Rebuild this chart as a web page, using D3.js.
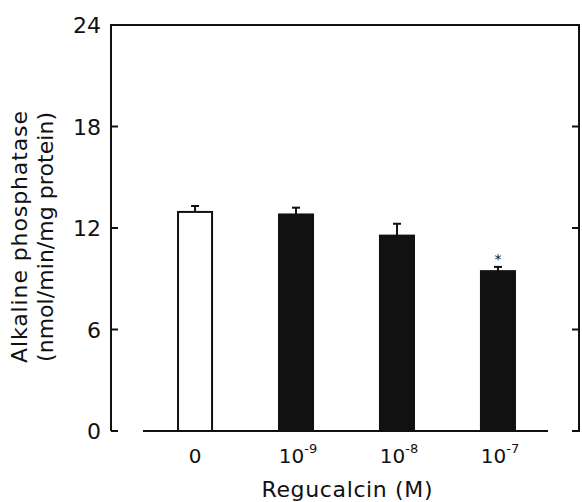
<!DOCTYPE html>
<meta charset="utf-8">
<head>
  <style>
    body { margin: 0; background: #fff; }
    text { font-family: "DejaVu Sans", sans-serif; fill: #111; }
  </style>
  <script src="https://cdn.jsdelivr.net/npm/d3@7"></script>
</head>
<body>
<script>
  // values
  const doses = ["0", "-9", "-8", "-7"];
  const means = [12.95, 12.8, 11.55, 9.45];
  const errs = [0.35, 0.4, 0.7, 0.25];
  const signif = [false, false, false, true];
  const yTicks = [0, 6, 12, 18, 24];

  const W = 582, H = 502;
  const mLeft = 111, mRight = 579, mTop = 25, mBottom = 431;

  const svg = d3.create("svg:svg")
    .attr("width", W)
    .attr("height", H);
  d3.select("body").append(() => svg.node());

  const y = d3.scaleLinear().domain([0, 24]).range([mBottom, mTop]);
  const x = d3.scaleBand()
    .domain(doses)
    .range([144, 549])
    .paddingInner(0.663)
    .paddingOuter(0.337);

  const ink = "#111";

  // frame: left axis, top line, right axis
  svg.append("path")
    .attr("d", `M${mLeft},${mBottom} L${mLeft},${mTop} L${mRight},${mTop} L${mRight},${mBottom + 1}`)
    .attr("fill", "none")
    .attr("stroke", ink)
    .attr("stroke-width", 2);

  // ticks (inward) and labels
  const gy = svg.append("g");
  gy.selectAll("line.tl").data(yTicks).join("line")
    .attr("class", "tl")
    .attr("x1", mLeft).attr("x2", mLeft + 7)
    .attr("y1", d => y(d)).attr("y2", d => y(d))
    .attr("stroke", ink).attr("stroke-width", 2);
  gy.selectAll("line.tr").data(yTicks).join("line")
    .attr("class", "tr")
    .attr("x1", mRight).attr("x2", mRight - 7)
    .attr("y1", d => y(d)).attr("y2", d => y(d))
    .attr("stroke", ink).attr("stroke-width", 2);
  gy.selectAll("text").data(yTicks).join("text")
    .attr("x", mLeft - 10)
    .attr("y", d => y(d) + 8)
    .attr("text-anchor", "end")
    .attr("font-size", 22)
    .text(d => d);

  // baseline
  svg.append("line")
    .attr("x1", x.range()[0] - 1).attr("x2", x.range()[1] - 1)
    .attr("y1", y(0)).attr("y2", y(0))
    .attr("stroke", ink).attr("stroke-width", 2);

  // bars
  const bars = svg.append("g");
  bars.selectAll("rect").data(doses).join("rect")
    .attr("x", d => x(d))
    .attr("y", (d, i) => y(means[i]))
    .attr("width", x.bandwidth())
    .attr("height", (d, i) => y(0) - y(means[i]))
    .attr("fill", (d, i) => i == 0 ? "#fff" : ink)
    .attr("stroke", ink)
    .attr("stroke-width", 2);

  // error bars (upper only)
  const eb = svg.append("g").attr("stroke", ink).attr("stroke-width", 2);
  eb.selectAll("line.v").data(doses).join("line")
    .attr("class", "v")
    .attr("x1", d => x(d) + x.bandwidth() / 2)
    .attr("x2", d => x(d) + x.bandwidth() / 2)
    .attr("y1", (d, i) => y(means[i]))
    .attr("y2", (d, i) => y(means[i] + errs[i]));
  eb.selectAll("line.c").data(doses).join("line")
    .attr("class", "c")
    .attr("x1", d => x(d) + x.bandwidth() / 2 - 4)
    .attr("x2", d => x(d) + x.bandwidth() / 2 + 4)
    .attr("y1", (d, i) => y(means[i] + errs[i]))
    .attr("y2", (d, i) => y(means[i] + errs[i]));

  // significance stars
  svg.selectAll("text.star").data(doses.filter((d, i) => signif[i])).join("text")
    .attr("class", "star")
    .attr("x", d => x(d) + x.bandwidth() / 2)
    .attr("y", d => y(means[doses.indexOf(d)] + errs[doses.indexOf(d)]) - 3)
    .attr("text-anchor", "middle")
    .attr("font-size", 14)
    .text("*");

  // x tick labels
  const xl = svg.append("g");
  xl.selectAll("text").data(doses).join("text")
    .attr("x", d => x(d) + x.bandwidth() / 2 + (d == "0" ? 0 : 2))
    .attr("y", 463)
    .attr("text-anchor", "middle")
    .attr("font-size", 20)
    .each(function(d) {
      const t = d3.select(this);
      if (d == "0") { t.text("0"); return; }
      t.append("tspan").text("10");
      t.append("tspan").attr("dy", -10).attr("font-size", 13).text(d);
    });

  // axis titles
  svg.append("text")
    .attr("x", 347).attr("y", 497)
    .attr("text-anchor", "middle")
    .attr("font-size", 22)
    .attr("textLength", 171)
    .text("Regucalcin (M)");

  const yt = svg.append("g").attr("transform", "translate(0,237) rotate(-90)");
  yt.append("text")
    .attr("x", 0).attr("y", 27)
    .attr("text-anchor", "middle")
    .attr("font-size", 22)
    .attr("textLength", 252)
    .text("Alkaline  phosphatase");
  yt.append("text")
    .attr("x", 0).attr("y", 53)
    .attr("text-anchor", "middle")
    .attr("font-size", 22)
    .attr("textLength", 250)
    .text("(nmol/min/mg protein)");
</script>
</body>
</html>
